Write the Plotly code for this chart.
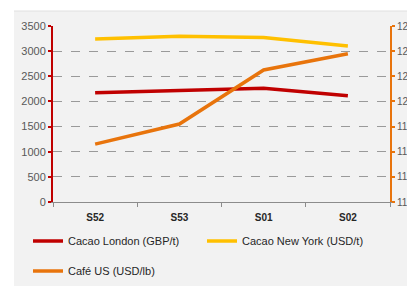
import plotly.graph_objects as go

categories = ["S52", "S53", "S01", "S02"]
cacao_london = [2175, 2215, 2260, 2115]
cacao_ny = [3240, 3295, 3270, 3100]
cafe_us = [116.6, 118.2, 122.5, 123.8]

left_ticks = [0, 500, 1000, 1500, 2000, 2500, 3000, 3500]
right_ticks = [112, 114, 116, 118, 120, 122, 124, 126]

RED = "#C00000"
YEL = "#FFC000"
ORA = "#E8740C"
font_family = "Liberation Sans, Arial, sans-serif"

fig = go.Figure()
fig.add_trace(go.Scatter(x=categories, y=cacao_london, mode="lines", name="Cacao London (GBP/t)",
                         line=dict(color=RED, width=3.5), legend="legend"))
fig.add_trace(go.Scatter(x=categories, y=cacao_ny, mode="lines", name="Cacao New York (USD/t)",
                         line=dict(color=YEL, width=3.5), legend="legend"))
fig.add_trace(go.Scatter(x=categories, y=cafe_us, mode="lines", name="Café US (USD/lb)",
                         line=dict(color=ORA, width=3.5), yaxis="y2", legend="legend2"))

OFF = 8  # page body margin
W, H = 415 - OFF, 286 - OFF
L, R, T, B = 53 - OFF, 25, 26 - OFF, 84
pw, ph = W - L - R, H - T - B

def px2x(px):
    return (px - OFF - L) / pw

def py2y(py):
    return (H - B - (py - OFF)) / ph

fig.update_layout(
    width=W, height=H,
    margin=dict(l=L, r=R, t=T, b=B, autoexpand=False),
    paper_bgcolor="white",
    plot_bgcolor="#F2F2F2",
    font=dict(family=font_family, size=10, color="#595959"),
    showlegend=True,
    xaxis=dict(
        type="category", showgrid=False, showline=True, linecolor="#8C8C8C", linewidth=1,
        ticks="outside", tickson="boundaries", ticklen=4, tickcolor="#8C8C8C",
        tickfont=dict(size=10, color="#262626", family=font_family, weight="bold"),
        ticklabelstandoff=6,
        range=[-0.5, 3.5], zeroline=False, automargin=False,
    ),
    yaxis=dict(
        range=[0, 3500], tickvals=left_ticks, showgrid=True, gridcolor="#9A9A9A", griddash="dash",
        gridwidth=1, showline=True, linecolor=RED, linewidth=2, ticks="outside", ticklen=3,
        tickcolor=RED, tickwidth=2, zeroline=False, tickfont=dict(size=11, color="#595959"),
        automargin=False,
    ),
    yaxis2=dict(
        range=[112, 126], tickvals=right_ticks, overlaying="y", side="right", showgrid=False,
        showline=True, linecolor=ORA, linewidth=2, ticks="outside", ticklen=3, tickcolor=ORA,
        tickwidth=2, zeroline=False, tickfont=dict(size=10, color="#595959"), automargin=False,
        ticklabelstandoff=0,
    ),
    legend=dict(
        orientation="h", x=px2x(28), xanchor="left", y=py2y(241), yanchor="middle",
        entrywidth=129, entrywidthmode="pixels", bgcolor="rgba(0,0,0,0)",
        font=dict(size=11, color="#262626", family=font_family), itemwidth=30,
    ),
    legend2=dict(
        orientation="h", x=px2x(28), xanchor="left", y=py2y(271), yanchor="middle",
        bgcolor="rgba(0,0,0,0)",
        font=dict(size=11, color="#262626", family=font_family), itemwidth=30,
    ),
    shapes=[
        dict(type="rect", xref="paper", yref="paper", x0=px2x(14), x1=px2x(430),
             y0=py2y(300), y1=py2y(11), fillcolor="#F2F2F2", line=dict(width=0), layer="below"),
        dict(type="line", xref="paper", yref="paper", x0=px2x(14), x1=px2x(430),
             y0=py2y(11), y1=py2y(11), line=dict(color="#E0E0E0", width=1), layer="below"),
    ],
)

fig.write_html("out.html")
